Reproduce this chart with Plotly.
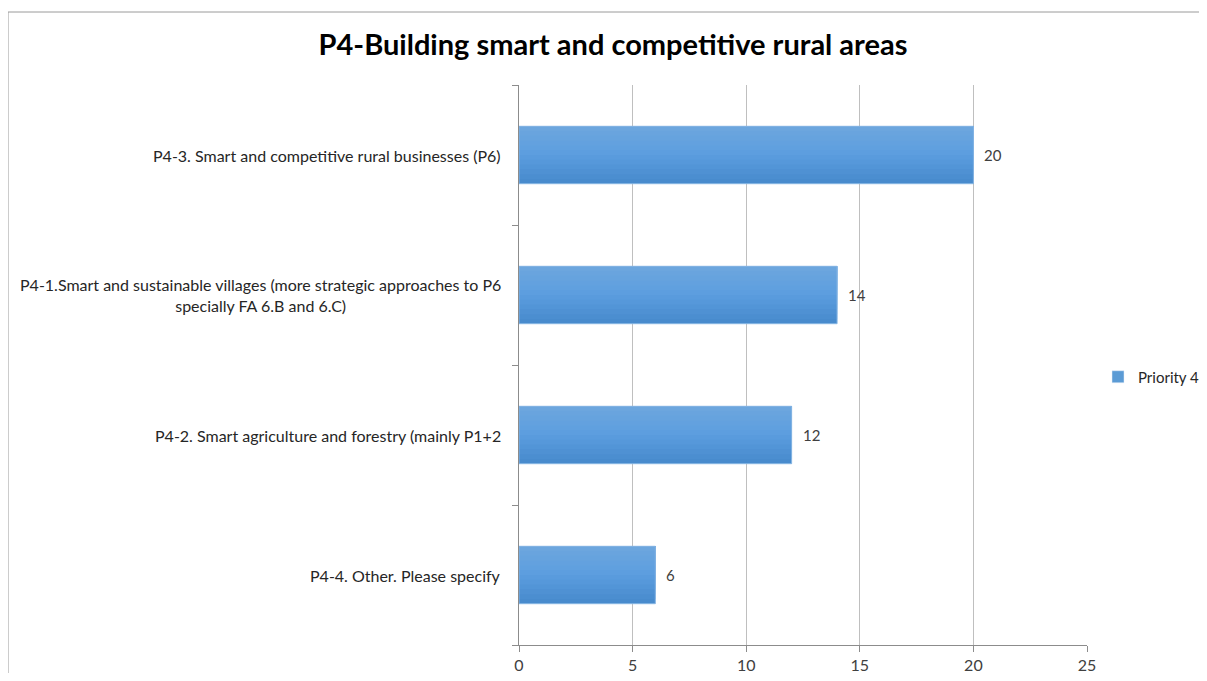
import plotly.graph_objects as go

# -------------------
# Dados
# -------------------

categorias = [
    "P4-4. Other. Please specify",
    "P4-2. Smart agriculture and forestry (mainly P1+2",
    "P4-1.Smart and sustainable villages (more strategic approaches to P6<br>specially FA 6.B and 6.C)",
    "P4-3. Smart and competitive rural businesses (P6)",
]
valores = [6, 12, 14, 20]
serie = "Priority 4"
titulo = "P4-Building smart and competitive rural areas"
x_ticks = [0, 5, 10, 15, 20, 25]

FONTE = "Lato"
OFF = 8  # margem do body da página html
W, H = 1207 - 2 * OFF, 681 - 2 * OFF
# área do gráfico (coordenadas da figura)
PL, PR, PT, PB = 519 - OFF, 1087 - OFF, 85 - OFF, 645 - OFF
ML, MR, MT, MB = PL, W - PR, PT, H - PB

BAR_W = 0.41
N_FAIXAS = 12


def hex_rgb(h):
    h = h.lstrip("#")
    return tuple(int(h[i:i + 2], 16) for i in (0, 2, 4))


def mistura(c0, c1, t):
    a, b = hex_rgb(c0), hex_rgb(c1)
    return "rgb(%d,%d,%d)" % tuple(round(a[k] + (b[k] - a[k]) * t) for k in range(3))


# degradê do Excel (de baixo para cima)
COR_BAIXO, COR_MEIO, COR_TOPO = "#4689cb", "#5b9ddf", "#6ea7de"

fig = go.Figure()

# -------- BARRAS --------
# faixas sobrepostas: cada uma vai do topo da barra até um pouco mais acima,
# assim não aparecem frestas entre as cores

for i in range(N_FAIXAS):
    t = (i + 0.5) / N_FAIXAS
    if t < 0.5:
        cor = mistura(COR_BAIXO, COR_MEIO, t / 0.5)
    else:
        cor = mistura(COR_MEIO, COR_TOPO, (t - 0.5) / 0.5)
    base = -BAR_W / 2 + i * BAR_W / N_FAIXAS
    fig.add_trace(go.Bar(
        y=categorias,
        x=valores,
        orientation="h",
        name=serie,
        width=BAR_W / 2 - base,
        offset=base,
        marker=dict(color=cor, line=dict(width=0)),
        showlegend=False,
        hoverinfo="skip",
    ))

# contorno claro
fig.add_trace(go.Bar(
    y=categorias,
    x=valores,
    orientation="h",
    name=serie,
    width=BAR_W,
    marker=dict(color="rgba(0,0,0,0)", line=dict(color="#86b5e3", width=1)),
    showlegend=False,
    hoverinfo="x+y",
))

# entrada da legenda
fig.add_trace(go.Bar(
    y=[None], x=[None], orientation="h", name=serie,
    marker=dict(color="#5b9bd5"), showlegend=True,
))

annotations = []

# rótulos das categorias (centralizados, como no Excel)
for c in categorias:
    annotations.append(dict(
        x=0, xref="paper", y=c, yref="y",
        xanchor="right", yanchor="middle", xshift=-16,
        text=c, showarrow=False, align="center",
        font=dict(family=FONTE, size=16, color="#262626"),
    ))

# rótulos de dados
for c, v in zip(categorias, valores):
    annotations.append(dict(
        x=v, xref="x", y=c, yref="y",
        xanchor="left", yanchor="middle", xshift=9,
        text=str(v), showarrow=False,
        font=dict(family=FONTE, size=15, color="#404040"),
    ))

# borda da área do gráfico
pw = PR - PL
ph = PB - PT
bx = (8 - OFF - PL) / pw
by = (PB - (12 - OFF)) / ph
shapes = [
    dict(type="line", xref="paper", yref="paper", x0=bx, x1=1.4, y0=by, y1=by,
         line=dict(color="#9a9a9a", width=1)),
    dict(type="line", xref="paper", yref="paper", x0=bx, x1=bx, y0=by, y1=-0.2,
         line=dict(color="#9a9a9a", width=1)),
]

fig.update_layout(
    width=W, height=H,
    margin=dict(l=ML, r=MR, t=MT, b=MB, autoexpand=False),
    paper_bgcolor="white",
    plot_bgcolor="white",
    barmode="overlay",
    title=dict(
        text="<b>" + titulo + "</b>",
        x=(613 - OFF) / W, xref="container", xanchor="center",
        y=1 - (45 - OFF) / H, yref="container", yanchor="middle",
        font=dict(family=FONTE, size=29, color="#000000"),
    ),
    annotations=annotations,
    shapes=shapes,
    legend=dict(
        x=(1098 - OFF) / W, xref="container", y=1 - (377 - OFF) / H, yref="container",
        xanchor="left", yanchor="middle",
        font=dict(family=FONTE, size=15, color="#262626"),
        itemwidth=30,
    ),
    xaxis=dict(
        range=[0, 25], tickvals=x_ticks,
        showgrid=True, gridcolor="#bfbfbf", gridwidth=1,
        zeroline=False,
        showline=True, linecolor="#8c8c8c", linewidth=1,
        ticks="outside", ticklen=6, tickcolor="#8c8c8c",
        tickfont=dict(family=FONTE, size=16, color="#404040"),
    ),
    yaxis=dict(
        type="category", range=[-0.5, 3.5],
        showticklabels=False,
        showgrid=False, zeroline=False,
        showline=True, linecolor="#8c8c8c", linewidth=1,
        ticks="outside", ticklen=6, tickcolor="#8c8c8c",
        tickson="boundaries",
    ),
)

fig.write_html("out.html")
